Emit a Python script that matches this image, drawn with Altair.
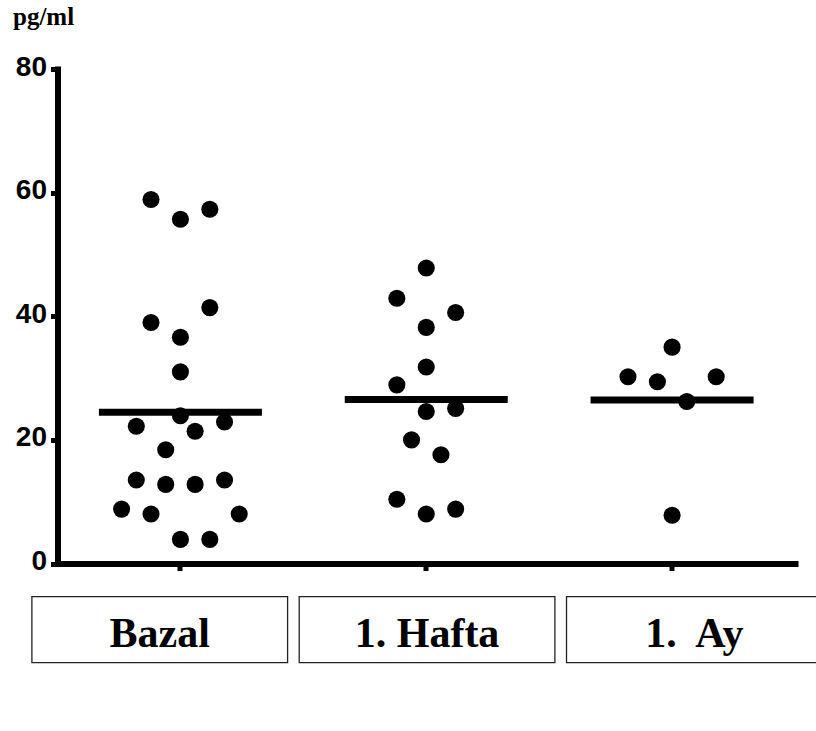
import altair as alt
import pandas as pd

# ---- data ----
groups = ["Bazal", "1. Hafta", "1. Ay"]
box_labels = ["Bazal", "1. Hafta", "1.\u00a0 Ay"]

bazal_values = [58.9, 57.3, 55.7, 41.4, 39.0, 36.6, 31.0, 23.9, 22.9, 22.2, 21.4,
                18.4, 13.5, 13.5, 12.8, 12.8, 8.8, 8.0, 8.0, 3.9, 3.9]
bazal_jitter = [-2, 2, 0, 2, -2, 0, 0, 0, 3, -3, 1, -1, -3, 3, -1, 1, -4, -2, 4, 0, 2]

hafta_values = [47.8, 42.9, 40.6, 38.2, 31.8, 28.9, 24.6, 25.1, 20.0, 17.6, 10.4, 8.0, 8.8]
hafta_jitter = [0, -2, 2, 0, 0, -2, 0, 2, -1, 1, -2, 0, 2]

ay_values = [35.0, 30.2, 29.4, 30.2, 26.2, 7.8]
ay_jitter = [0, -3, -1, 3, 1, 0]

y_ticks = [0, 20, 40, 60, 80]
unit_label = "pg/ml"

rows = []
for g, vals, jit in [(groups[0], bazal_values, bazal_jitter),
                     (groups[1], hafta_values, hafta_jitter),
                     (groups[2], ay_values, ay_jitter)]:
    for v, j in zip(vals, jit):
        rows.append({"group": g, "value": v, "jitter": j})
df = pd.DataFrame(rows)
box_df = pd.DataFrame({"group": groups, "label": box_labels})
unit_df = pd.DataFrame({"t": [unit_label]})

x_main = alt.X(
    "group:N", sort=groups,
    scale=alt.Scale(paddingInner=0, paddingOuter=0),
    axis=alt.Axis(title=None, labels=False, grid=False, tickSize=7, tickWidth=5,
                  tickColor="black", domainColor="black", domainWidth=6,
                  domainCap="square"),
)
y_main = alt.Y(
    "value:Q", scale=alt.Scale(domain=[0, 80], nice=False, zero=True),
    axis=alt.Axis(values=y_ticks, title=None, grid=False, labelFont="Liberation Sans",
                  labelFontWeight="bold", labelFontSize=28, labelColor="black",
                  labelPadding=4, tickSize=7, tickWidth=5, tickColor="black",
                  domainColor="black", domainWidth=6, domainCap="square",
                  labelOffset=-2),
)

points = alt.Chart(df).mark_circle(size=292, color="black", opacity=1).encode(
    x=x_main,
    xOffset=alt.XOffset("jitter:Q", scale=alt.Scale(domain=[-8.36, 8.36])),
    y=y_main,
)

means = alt.Chart(df).mark_tick(color="black", size=163, thickness=7,
                                orient="horizontal", opacity=1).encode(
    x=alt.X("group:N", sort=groups),
    y=alt.Y("mean(value):Q"),
)

box_scale = alt.Scale(type="band", range=[-25.8, 764.9], paddingInner=0.042, paddingOuter=0)

boxes = alt.Chart(box_df).mark_bar(fill="white", stroke="#222222", strokeWidth=1.3,
                                   width=255.7).encode(
    x=alt.X("group:N", sort=groups, scale=box_scale, axis=None),
    y=alt.value(527.7),
    y2=alt.value(593.7),
)

texts = alt.Chart(box_df).mark_text(font="Liberation Serif", fontWeight="bold",
                                     fontSize=42, baseline="alphabetic",
                                     align="center", color="black").encode(
    x=alt.X("group:N", sort=groups, scale=box_scale, axis=None),
    y=alt.value(577.7),
    text="label:N",
)

unit = alt.Chart(unit_df).mark_text(font="Liberation Serif", fontWeight="bold",
                                    fontSize=25, align="left", baseline="alphabetic",
                                    color="black").encode(
    x=alt.value(-44.5), y=alt.value(-44), text="t:N",
)

chart = alt.layer(
    alt.layer(points, means),
    alt.layer(boxes, texts, unit),
).resolve_scale(x="independent").properties(
    width=737.5, height=494.5,
    padding={"left": 57.5, "top": 69, "right": 21, "bottom": 167.5},
    autosize=alt.AutoSizeParams(type="none"),
    background="white",
).configure_view(stroke=None)

chart.save("out.html", embed_options={"renderer": "svg", "actions": False})
